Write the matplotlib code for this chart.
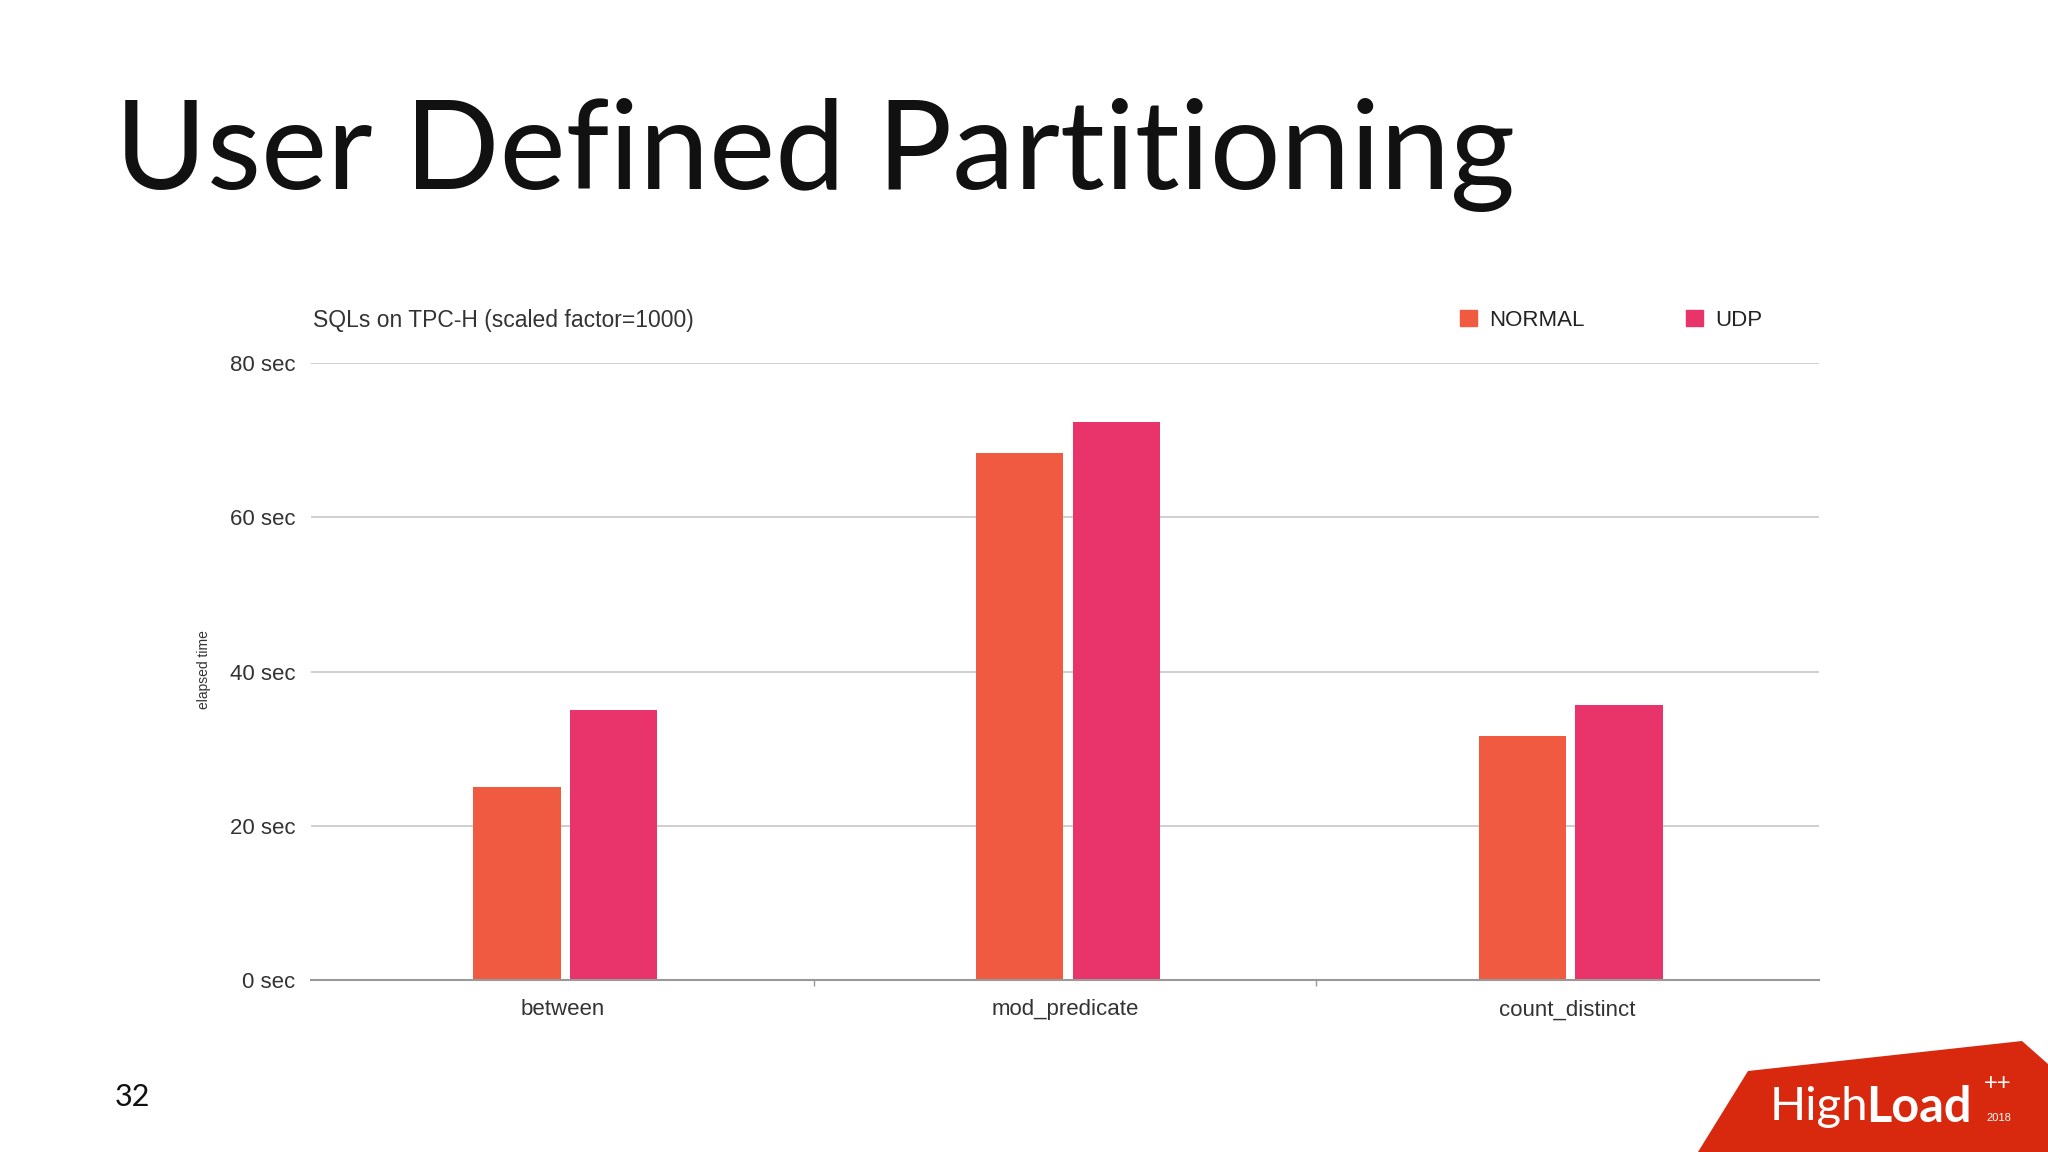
import numpy as np
import matplotlib.pyplot as plt
from matplotlib.patches import Polygon, Patch

# data
categories = ["between", "mod_predicate", "count_distinct"]
normal = [25, 68.3, 31.7]
udp = [35, 72.3, 35.6]
series_names = ["NORMAL", "UDP"]
yticks = [0, 20, 40, 60, 80]
ytick_labels = ["0 sec", "20 sec", "40 sec", "60 sec", "80 sec"]

c_normal = "#F05A40"
c_udp = "#E8336B"

plt.rcParams['font.family'] = ['Liberation Sans', 'DejaVu Sans']

fig = plt.figure(figsize=(20.48, 11.52), dpi=100)
fig.patch.set_facecolor("white")

# slide title and page number
fig.text(115/2048, 1-189/1152, "User Defined Partitioning", fontsize=90,
         family=['Lato', 'DejaVu Sans'], color="#111111", va="baseline", ha="left")
fig.text(115/2048, 1-1097/1152, "32", fontsize=22, family=['Lato', 'DejaVu Sans'],
         color="#111111", va="center", ha="left")

ax = fig.add_axes([311/2048, 1-980/1152, 1508/2048, 617/1152])
x = np.arange(len(categories))
w = 0.174
off = 0.096
ax.bar(x - off + 0.006, normal, w, color=c_normal, zorder=3)
ax.bar(x + off + 0.006, udp, w, color=c_udp, zorder=3)

ax.set_xlim(-0.5, 2.5)
ax.set_ylim(0, 80)
ax.set_yticks(yticks)
ax.set_yticklabels(ytick_labels)
ax.yaxis.grid(True, color="#cccccc", lw=1.3, zorder=0)
ax.tick_params(axis='y', length=0, pad=11, labelsize=16, labelcolor="#333333")
ax.set_xticks(x)
ax.set_xticklabels(categories)
ax.tick_params(axis='x', length=0, pad=14, labelsize=16, labelcolor="#333333")
ax.set_xticks([0.5, 1.5], minor=True)
ax.tick_params(axis='x', which='minor', length=4, color="#999999", width=1)
for s in ["top", "right", "left"]:
    ax.spines[s].set_visible(False)
ax.spines["bottom"].set_color("#999999")
ax.spines["bottom"].set_linewidth(1.5)
ax.spines["bottom"].set_zorder(4)

fig.text(313/2048, 1-321/1152, "SQLs on TPC-H (scaled factor=1000)", fontsize=16.5,
         color="#333333", va="center", ha="left")
fig.text(204/2048, 1-670/1152, "elapsed time", fontsize=10, rotation=90,
         color="#333333", va="center", ha="center")

handles = [Patch(color=c_normal), Patch(color=c_udp)]
fig.legend(handles, series_names, loc="center left", ncol=2, frameon=False,
           bbox_to_anchor=(1440/2048, 1-320/1152), fontsize=16, handlelength=0.75,
           handleheight=0.75, handletextpad=0.55, columnspacing=4.6,
           labelcolor="#222222")

# HighLoad++ logo corner
logo = Polygon([[1698/2048, 0], [1748/2048, 1-1071/1152], [2022/2048, 1-1041/1152],
                [1.0, 1-1064/1152], [1.0, 0]], closed=True, transform=fig.transFigure,
               facecolor="#D8290F", edgecolor="none")
fig.patches.append(logo)
fig.text(1770/2048, 1-1107/1152, "High", fontsize=34, color="white",
         family=['Lato', 'DejaVu Sans'], va="center", ha="left")
fig.text(1866/2048, 1-1107/1152, "Load", fontsize=35, color="white",
         family=['Lato', 'DejaVu Sans'], fontweight="bold", va="center", ha="left")
fig.text(1984/2048, 1-1084/1152, "++", fontsize=17, color="white",
         va="center", ha="left")
fig.text(1986/2048, 1-1118/1152, "2018", fontsize=8, color="white",
         va="center", ha="left")

fig.savefig("out.png", dpi=100)
